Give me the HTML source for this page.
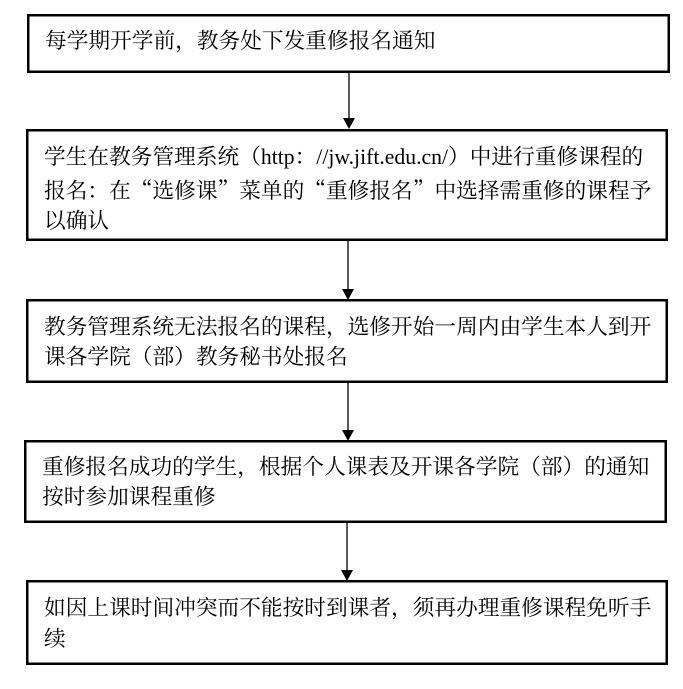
<!DOCTYPE html>
<html>
<head>
<meta charset="utf-8">
<style>
  html, body { margin:0; padding:0; background:#fff; }
  body { width:683px; height:689px; position:relative; overflow:hidden; }
  svg { position:absolute; left:0; top:0; }
  .t {
    position:absolute;
    white-space:nowrap;
    font-family:"Liberation Serif","Noto Serif CJK SC","Noto Sans CJK SC",serif;
    font-size:21.7px;
    line-height:30px;
    color:#000;
  }
  .q { display:inline-block; width:1em; font-family:"Noto Serif CJK SC",serif; }
  .qo { text-align:right; }
  .qc { text-align:left; }
</style>
</head>
<body>
<svg width="683" height="689" viewBox="0 0 683 689" xmlns="http://www.w3.org/2000/svg">
  <g fill="none" stroke="#000" stroke-width="2.5">
    <rect x="28.25" y="15.25" width="640.5" height="56.5"/>
    <rect x="27.25" y="130.25" width="639.5" height="109.5"/>
    <rect x="27.25" y="300.25" width="639.5" height="81.5"/>
    <rect x="25.25" y="441.25" width="640.5" height="80.5"/>
    <rect x="27.25" y="581.25" width="639.5" height="82.5"/>
  </g>
  <g stroke="#000" stroke-width="1.3">
    <line x1="349" y1="73" x2="349" y2="119"/>
    <line x1="348" y1="241" x2="348" y2="290"/>
    <line x1="348" y1="383" x2="348" y2="431"/>
    <line x1="347" y1="523" x2="347" y2="571"/>
  </g>
  <g fill="#000">
    <polygon points="343,118 355,118 349,129"/>
    <polygon points="342,289 354,289 348,300"/>
    <polygon points="342,430 354,430 348,441"/>
    <polygon points="341,570 353,570 347,581"/>
  </g>
</svg>

<div class="t" style="left:45px; top:26px;">每学期开学前，教务处下发重修报名通知</div>

<div class="t" style="left:44px; top:142px;">学生在教务管理系统（http：//jw.jift.edu.cn/）中进行重修课程的</div>
<div class="t" style="left:44px; top:175px;">报名：在<span class="q qo">“</span>选修课<span class="q qc">”</span>菜单的<span class="q qo">“</span>重修报名<span class="q qc">”</span>中选择需重修的课程予</div>
<div class="t" style="left:44px; top:206px;">以确认</div>

<div class="t" style="left:44px; top:312px;">教务管理系统无法报名的课程，选修开始一周内由学生本人到开</div>
<div class="t" style="left:44px; top:342px;">课各学院（部）教务秘书处报名</div>

<div class="t" style="left:42px; top:452px;">重修报名成功的学生，根据个人课表及开课各学院（部）的通知</div>
<div class="t" style="left:42px; top:482px;">按时参加课程重修</div>

<div class="t" style="left:44px; top:593px;">如因上课时间冲突而不能按时到课者，须再办理重修课程免听手</div>
<div class="t" style="left:44px; top:624px;">续</div>
</body>
</html>
